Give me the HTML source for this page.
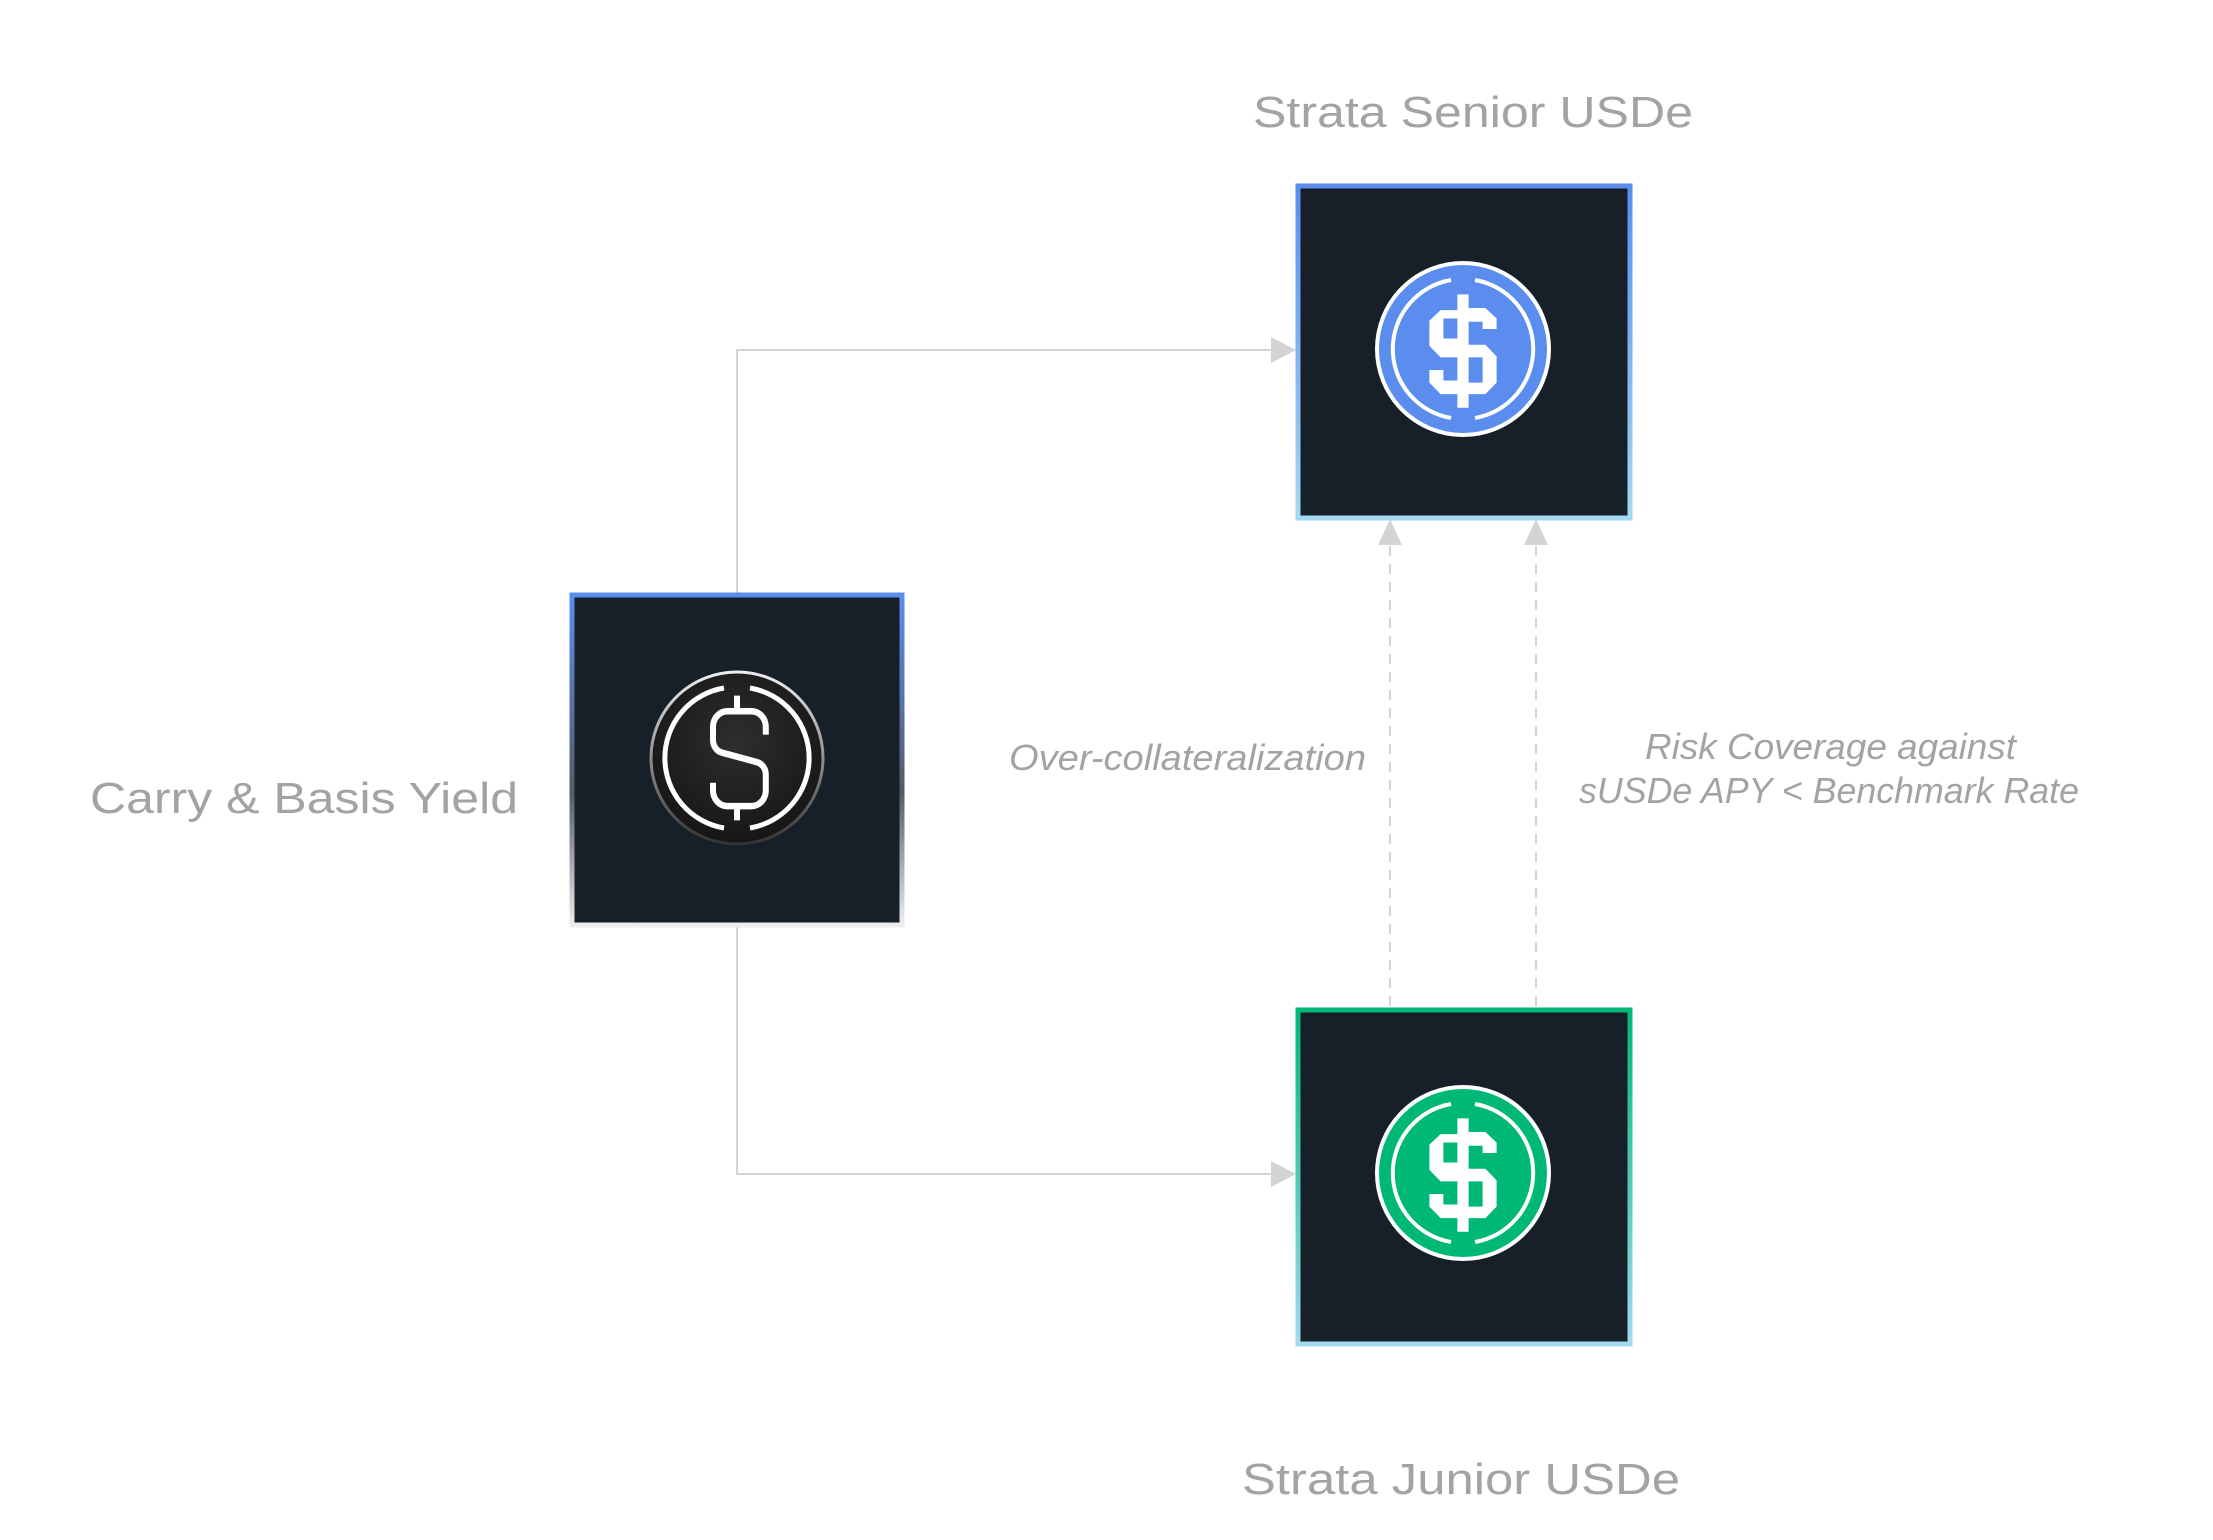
<!DOCTYPE html>
<html><head><meta charset="utf-8"><style>
html,body{margin:0;padding:0;background:#fff;}
svg{display:block;}
text{font-family:"Liberation Sans",sans-serif;fill:#a3a3a3;}
</style></head><body>
<svg width="2213" height="1540" viewBox="0 0 2213 1540" xmlns="http://www.w3.org/2000/svg">
<defs>
<linearGradient id="gS" x1="0" y1="0" x2="0" y2="1"><stop offset="0" stop-color="#5b8def"/><stop offset="1" stop-color="#a3daf2"/></linearGradient>
<linearGradient id="gJ" x1="0" y1="0" x2="0" y2="1"><stop offset="0" stop-color="#00b875"/><stop offset="1" stop-color="#a3daf2"/></linearGradient>
<linearGradient id="gL" x1="0" y1="0" x2="0" y2="1"><stop offset="0" stop-color="#5b8def"/><stop offset="0.6" stop-color="#555b66"/><stop offset="1" stop-color="#eeeeee"/></linearGradient>
<radialGradient id="gC" cx="0.5" cy="0.4" r="0.6"><stop offset="0" stop-color="#2e2e2e"/><stop offset="1" stop-color="#161616"/></radialGradient>
<linearGradient id="gR" x1="0" y1="0" x2="0" y2="1"><stop offset="0" stop-color="#eee"/><stop offset="1" stop-color="#333"/></linearGradient>
</defs>

<polyline points="737,593 737,350 1272,350" fill="none" stroke="#d4d4d4" stroke-width="2"/>
<polygon points="1296,350 1271,337 1271,363" fill="#d4d4d4"/>
<polyline points="737,926 737,1174 1272,1174" fill="none" stroke="#d4d4d4" stroke-width="2"/>
<polygon points="1296,1174 1271,1161 1271,1187" fill="#d4d4d4"/>
<line x1="1390" y1="1006" x2="1390" y2="545" stroke="#d4d4d4" stroke-width="2" stroke-dasharray="10,8"/>
<polygon points="1390,519 1378,545 1402,545" fill="#d4d4d4"/>
<line x1="1536" y1="1006" x2="1536" y2="545" stroke="#d4d4d4" stroke-width="2" stroke-dasharray="10,8"/>
<polygon points="1536,519 1524,545 1548,545" fill="#d4d4d4"/>

<rect x="1298" y="186" width="332" height="332" fill="#171f29" stroke="url(#gS)" stroke-width="5"/>
<rect x="572" y="595" width="330" height="330" fill="#171f29" stroke="url(#gL)" stroke-width="5"/>
<rect x="1298" y="1010" width="332" height="334" fill="#171f29" stroke="url(#gJ)" stroke-width="5"/>

<g transform="translate(1463,349)">
<circle r="86" fill="#5b8def" stroke="#fff" stroke-width="4"/>
<path d="M -12,-69 A 70 70 0 0 0 -12,69" fill="none" stroke="#fff" stroke-width="4"/>
<path d="M 12,-69 A 70 70 0 0 1 12,69" fill="none" stroke="#fff" stroke-width="4"/>
<path transform="scale(1.4,1.05)" d="M -4,-52 h8 v13 h12 l8,10 v10 h-10 v-7 h-10 v22 h12 l8,11 v25 l-8,11 h-12 v13 h-8 v-13 h-12 l-8,-11 v-12 h10 v10 h10 v-22 h-12 l-8,-11 v-24 l8,-10 h12 z M -4,-29 h-10 v19 h10 z M 4,8 v24 h10 v-24 z" fill="#fff" fill-rule="evenodd"/>
</g>
<g transform="translate(1463,1173)">
<circle r="86" fill="#00b875" stroke="#fff" stroke-width="4"/>
<path d="M -12,-69 A 70 70 0 0 0 -12,69" fill="none" stroke="#fff" stroke-width="4"/>
<path d="M 12,-69 A 70 70 0 0 1 12,69" fill="none" stroke="#fff" stroke-width="4"/>
<path transform="scale(1.4,1.05)" d="M -4,-52 h8 v13 h12 l8,10 v10 h-10 v-7 h-10 v22 h12 l8,11 v25 l-8,11 h-12 v13 h-8 v-13 h-12 l-8,-11 v-12 h10 v10 h10 v-22 h-12 l-8,-11 v-24 l8,-10 h12 z M -4,-29 h-10 v19 h10 z M 4,8 v24 h10 v-24 z" fill="#fff" fill-rule="evenodd"/>
</g>
<g transform="translate(737,758)">
<circle r="86" fill="url(#gC)" stroke="url(#gR)" stroke-width="3"/>
<path d="M -13,-70 A 71 71 0 0 0 -13,70" fill="none" stroke="#fff" stroke-width="5"/>
<path d="M 13,-70 A 71 71 0 0 1 13,70" fill="none" stroke="#fff" stroke-width="5"/>
<path transform="scale(1.2,1.3)" d="M 0,-48 v12 M 0,36 v12 M 24,-18 v-6 a 12 12 0 0 0 -12,-12 h-20 a 12 12 0 0 0 -12,12 v10 a 10 10 0 0 0 8,10 l28,7 a 10 10 0 0 1 8,10 v12 a 12 12 0 0 1 -12,12 h-20 a 12 12 0 0 1 -12,-12 v-6" fill="none" stroke="#fff" stroke-width="5"/>
</g>

<text x="1473" y="127" font-size="44" text-anchor="middle" textLength="440" lengthAdjust="spacingAndGlyphs">Strata Senior USDe</text>
<text x="90" y="813" font-size="44" textLength="428" lengthAdjust="spacingAndGlyphs">Carry &amp; Basis Yield</text>
<text x="1461" y="1494" font-size="44" text-anchor="middle" textLength="438" lengthAdjust="spacingAndGlyphs">Strata Junior USDe</text>
<text x="1009" y="770" font-size="36" font-style="italic" textLength="357" lengthAdjust="spacingAndGlyphs">Over-collateralization</text>
<text x="1645" y="759" font-size="36" font-style="italic" textLength="371" lengthAdjust="spacingAndGlyphs">Risk Coverage against</text>
<text x="1579" y="803" font-size="36" font-style="italic" textLength="500" lengthAdjust="spacingAndGlyphs">sUSDe APY &lt; Benchmark Rate</text>
</svg>
</body></html>
